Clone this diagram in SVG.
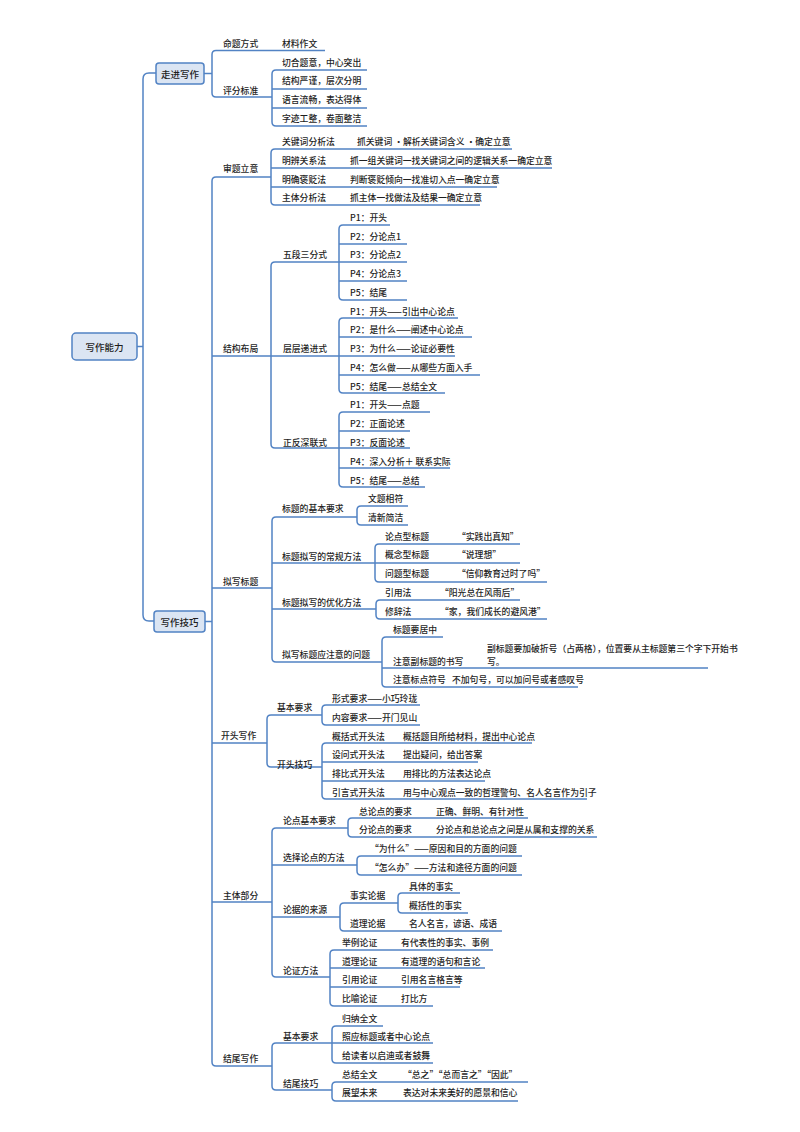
<svg xmlns="http://www.w3.org/2000/svg" width="800" height="1132" viewBox="0 0 800 1132">
<style>
.l{stroke:#5283c4;stroke-width:1.5;fill:none}
.b{fill:#dbe5f3;stroke:#5283c4;stroke-width:1.5}
text{font-family:"Noto Sans CJK SC","Liberation Sans",sans-serif;font-size:8.8px;font-weight:500;fill:#1e1e1e;dominant-baseline:central}
.c{text-anchor:middle;font-size:9.5px}
</style>
<rect width="800" height="1132" fill="#fff"/>
<g id="connectors">
<path class="l" d="M137,346.5H143M156,73H149Q143,73 143,79V615Q143,621 149,621H154"/>
<path class="l" d="M204,73.5H212M325,50.5H216Q212,50.5 212,54.5V93Q212,97 216,97H272"/>
<path class="l" d="M367,70H276Q272,70 272,74V122Q272,126 276,126H367M272,89H367M272,108H367"/>
<path class="l" d="M205,621.5H212M271,177H216Q212,177 212,181V1062Q212,1066 216,1066H272M212,356H271M212,588H272M212,743H267M212,902H272"/>
<path class="l" d="M512,149H275Q271,149 271,153V201Q271,205 275,205H480M271,168H552M271,187H497"/>
<path class="l" d="M339,262H275Q271,262 271,266V444Q271,448 275,448H339M271,356H339"/>
<path class="l" d="M390,225H343Q339,225 339,229V296Q339,300 343,300H407M339,244H407M339,262H407M339,281H407"/>
<path class="l" d="M458,318H343Q339,318 339,322V389Q339,393 343,393H445M339,337H472M339,356H455M339,375H480"/>
<path class="l" d="M430,412H343Q339,412 339,416V483Q339,487 343,487H425M339,431H410M339,448H410M339,468H450"/>
<path class="l" d="M357,517H276Q272,517 272,521V658Q272,662 276,662H382M272,563H375M272,609H376"/>
<path class="l" d="M408,506H361Q357,506 357,510V521Q357,525 361,525H408"/>
<path class="l" d="M520,544H379Q375,544 375,548V578Q375,582 379,582H547M375,563H520"/>
<path class="l" d="M520,600H380Q376,600 376,604V615Q376,619 380,619H547"/>
<path class="l" d="M443,637H386Q382,637 382,641V683Q382,687 386,687H578M382,668H708"/>
<path class="l" d="M322,715H271Q267,715 267,719V763Q267,767 271,767H322"/>
<path class="l" d="M420,705H326Q322,705 322,709V721Q322,725 326,725H420"/>
<path class="l" d="M532,743H326Q322,743 322,747V795Q322,799 326,799H587M322,762H478M322,781H485"/>
<path class="l" d="M348,828H276Q272,828 272,832V973Q272,977 276,977H330M272,865H357M272,917H340"/>
<path class="l" d="M528,818H352Q348,818 348,822V833Q348,837 352,837H597"/>
<path class="l" d="M522,856H361Q357,856 357,860V871Q357,875 361,875H522"/>
<path class="l" d="M398,903H344Q340,903 340,907V927Q340,931 344,931H502"/>
<path class="l" d="M460,893H402Q398,893 398,897V909Q398,913 402,913H468"/>
<path class="l" d="M493,950H334Q330,950 330,954V1002Q330,1006 334,1006H433M330,968H485M330,987H460"/>
<path class="l" d="M332,1043H276Q272,1043 272,1047V1086Q272,1090 276,1090H332"/>
<path class="l" d="M383,1026H336Q332,1026 332,1030V1059Q332,1063 336,1063H433M332,1043H433"/>
<path class="l" d="M528,1082H336Q332,1082 332,1086V1097Q332,1101 336,1101H518"/>
</g>
<g id="root"><rect class="b" x="72" y="333" width="65" height="27" rx="4"/><text class="c" x="104.5" y="346.5">写作能力</text></g>
<g id="zjxz"><rect class="b" x="156" y="63" width="48" height="21" rx="3"/><text class="c" x="180" y="73.5">走进写作</text></g>
<g id="xzjq"><rect class="b" x="154" y="611" width="51" height="21" rx="3"/><text class="c" x="179.5" y="621.5">写作技巧</text></g>
<g id="mtfs"><text x="223" y="43">命题方式</text><text x="282" y="43">材料作文</text></g>
<g id="pfbz"><text x="223" y="90">评分标准</text></g>
<g id="pf1"><text x="282" y="62">切合题意，中心突出</text></g>
<g id="pf2"><text x="282" y="80">结构严谨，层次分明</text></g>
<g id="pf3"><text x="282" y="99">语言流畅，表达得体</text></g>
<g id="pf4"><text x="282" y="118">字迹工整，卷面整洁</text></g>
<g id="stlz"><text x="223" y="168">审题立意</text></g>
<g id="st1"><text x="282" y="141">关键词分析法</text><text x="357" y="141">抓关键词 ·解析关键词含义 ·确定立意</text></g>
<g id="st2"><text x="282" y="160">明辨关系法</text><text x="350" y="160">抓一组关键词一找关键词之间的逻辑关系一确定立意</text></g>
<g id="st3"><text x="282" y="179">明确褒贬法</text><text x="350" y="179">判断褒贬倾向一找准切入点一确定立意</text></g>
<g id="st4"><text x="282" y="197">主体分析法</text><text x="350" y="197">抓主体一找做法及结果一确定立意</text></g>
<g id="jgbj"><text x="223" y="348">结构布局</text></g>
<g id="wd"><text x="283" y="254">五段三分式</text></g>
<g id="wd1"><text x="350" y="217">P1：开头</text></g>
<g id="wd2"><text x="350" y="236">P2：分论点1</text></g>
<g id="wd3"><text x="350" y="254">P3：分论点2</text></g>
<g id="wd4"><text x="350" y="273">P4：分论点3</text></g>
<g id="wd5"><text x="350" y="292">P5：结尾</text></g>
<g id="cc"><text x="283" y="348">层层递进式</text></g>
<g id="cc1"><text x="350" y="311">P1：开头——引出中心论点</text></g>
<g id="cc2"><text x="350" y="329">P2：是什么——阐述中心论点</text></g>
<g id="cc3"><text x="350" y="348">P3：为什么——论证必要性</text></g>
<g id="cc4"><text x="350" y="367">P4：怎么做——从哪些方面入手</text></g>
<g id="cc5"><text x="350" y="386">P5：结尾——总结全文</text></g>
<g id="zf"><text x="283" y="442">正反深联式</text></g>
<g id="zf1"><text x="350" y="404">P1：开头——点题</text></g>
<g id="zf2"><text x="350" y="423">P2：正面论述</text></g>
<g id="zf3"><text x="350" y="442">P3：反面论述</text></g>
<g id="zf4"><text x="350" y="461">P4：深入分析＋ 联系实际</text></g>
<g id="zf5"><text x="350" y="480">P5：结尾——总结</text></g>
<g id="nxbt"><text x="223" y="581">拟写标题</text></g>
<g id="bt1"><text x="282" y="508">标题的基本要求</text></g>
<g id="bt1a"><text x="368" y="498">文题相符</text></g>
<g id="bt1b"><text x="368" y="517">清新简洁</text></g>
<g id="bt2"><text x="282" y="556">标题拟写的常规方法</text></g>
<g id="bt2a"><text x="385" y="536">论点型标题</text><text x="457" y="536">“实践出真知”</text></g>
<g id="bt2b"><text x="385" y="554">概念型标题</text><text x="457" y="554">“说理想”</text></g>
<g id="bt2c"><text x="385" y="573">问题型标题</text><text x="457" y="573">“信仰教育过时了吗”</text></g>
<g id="bt3"><text x="282" y="602">标题拟写的优化方法</text></g>
<g id="bt3a"><text x="385" y="592">引用法</text><text x="440" y="592">“阳光总在风雨后”</text></g>
<g id="bt3b"><text x="385" y="611">修辞法</text><text x="440" y="611">“家，我们成长的避风港”</text></g>
<g id="bt4"><text x="282" y="654">拟写标题应注意的问题</text></g>
<g id="bt4a"><text x="393" y="629">标题要居中</text></g>
<g id="bt4b"><text x="393" y="661">注意副标题的书写</text><text x="487" y="648">副标题要加破折号（占两格），位置要从主标题第三个字下开始书</text><text x="487" y="661">写。</text></g>
<g id="bt4c"><text x="393" y="679">注意标点符号</text><text x="452" y="679">不加句号，可以加问号或者感叹号</text></g>
<g id="ktxz"><text x="221" y="735">开头写作</text></g>
<g id="kt1"><text x="277" y="707">基本要求</text></g>
<g id="kt1a"><text x="332" y="698">形式要求——小巧玲珑</text></g>
<g id="kt1b"><text x="332" y="717">内容要求——开门见山</text></g>
<g id="kt2"><text x="277" y="764">开头技巧</text></g>
<g id="kt2a"><text x="332" y="736">概括式开头法</text><text x="403" y="736">概括题目所给材料，提出中心论点</text></g>
<g id="kt2b"><text x="332" y="754">设问式开头法</text><text x="403" y="754">提出疑问，给出答案</text></g>
<g id="kt2c"><text x="332" y="773">排比式开头法</text><text x="403" y="773">用排比的方法表达论点</text></g>
<g id="kt2d"><text x="332" y="792">引言式开头法</text><text x="403" y="792">用与中心观点一致的哲理警句、名人名言作为引子</text></g>
<g id="ztbf"><text x="223" y="895">主体部分</text></g>
<g id="zt1"><text x="283" y="820">论点基本要求</text></g>
<g id="zt1a"><text x="359" y="811">总论点的要求</text><text x="436" y="811">正确、鲜明、有针对性</text></g>
<g id="zt1b"><text x="359" y="829">分论点的要求</text><text x="436" y="829">分论点和总论点之间是从属和支撑的关系</text></g>
<g id="zt2"><text x="283" y="857">选择论点的方法</text></g>
<g id="zt2a"><text x="370" y="848">“为什么”——原因和目的方面的问题</text></g>
<g id="zt2b"><text x="370" y="867">“怎么办”——方法和途径方面的问题</text></g>
<g id="zt3"><text x="283" y="909">论据的来源</text></g>
<g id="zt3a"><text x="350" y="895">事实论据</text></g>
<g id="zt3a1"><text x="409" y="886">具体的事实</text></g>
<g id="zt3a2"><text x="409" y="905">概括性的事实</text></g>
<g id="zt3b"><text x="350" y="923">道理论据</text><text x="409" y="923">名人名言，谚语、成语</text></g>
<g id="zt4"><text x="283" y="970">论证方法</text></g>
<g id="zt4a"><text x="342" y="942">举例论证</text><text x="401" y="942">有代表性的事实、事例</text></g>
<g id="zt4b"><text x="342" y="961">道理论证</text><text x="401" y="961">有道理的语句和言论</text></g>
<g id="zt4c"><text x="342" y="979">引用论证</text><text x="401" y="979">引用名言格言等</text></g>
<g id="zt4d"><text x="342" y="998">比喻论证</text><text x="401" y="998">打比方</text></g>
<g id="jwxz"><text x="223" y="1058">结尾写作</text></g>
<g id="jw1"><text x="283" y="1036">基本要求</text></g>
<g id="jw1a"><text x="342" y="1018">归纳全文</text></g>
<g id="jw1b"><text x="342" y="1036">照应标题或者中心论点</text></g>
<g id="jw1c"><text x="342" y="1055">给读者以启迪或者鼓舞</text></g>
<g id="jw2"><text x="283" y="1083">结尾技巧</text></g>
<g id="jw2a"><text x="342" y="1074">总结全文</text><text x="403" y="1074">“总之”“总而言之”“因此”</text></g>
<g id="jw2b"><text x="342" y="1092">展望未来</text><text x="403" y="1092">表达对未来美好的愿景和信心</text></g>
</svg>
